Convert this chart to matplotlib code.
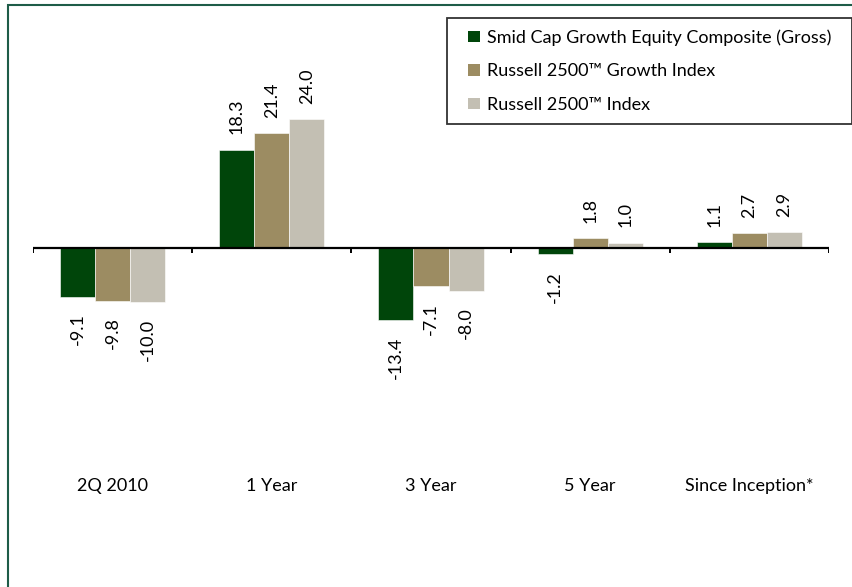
import numpy as np
import matplotlib
matplotlib.use('Agg')
import matplotlib.pyplot as plt
from matplotlib.patches import Patch, Rectangle
from matplotlib.legend_handler import HandlerPatch

plt.rcParams['font.family'] = ['Lato', 'DejaVu Sans']

categories = ['2Q 2010', '1 Year', '3 Year', '5 Year', 'Since Inception*']
series_names = ['Smid Cap Growth Equity Composite (Gross)',
                'Russell 2500\u2122 Growth Index',
                'Russell 2500\u2122 Index']
composite = [-9.1, 18.3, -13.4, -1.2, 1.1]
growth_index = [-9.8, 21.4, -7.1, 1.8, 2.7]
index_2500 = [-10.0, 24.0, -8.0, 1.0, 2.9]
value_labels = [['-9.1', '18.3', '-13.4', '-1.2', '1.1'],
                ['-9.8', '21.4', '-7.1', '1.8', '2.7'],
                ['-10.0', '24.0', '-8.0', '1.0', '2.9']]

colors = ['#00450A', '#9C8C62', '#C3BFB3']

W, H = 853, 587
fig = plt.figure(figsize=(W / 100, H / 100), dpi=100)

# outer frame of the slide
fig.patches.append(Rectangle((8 / W, -0.05), 1.0, (H - 5) / H + 0.05,
                             transform=fig.transFigure, fill=False,
                             edgecolor='#1E5C48', linewidth=1.5))

ax = fig.add_axes([33 / W, (H - 463) / H, (829 - 33) / W, 430 / H])

x = np.arange(len(categories))
width = 0.22
all_series = [composite, growth_index, index_2500]
for i, vals in enumerate(all_series):
    pos = x + (i - 1) * width
    ax.bar(pos, vals, width, color=colors[i], edgecolor='white', linewidth=0.4,
           label=series_names[i])
    for xp, v, lab in zip(pos, vals, value_labels[i]):
        off = 11 if v >= 0 else -12
        ax.annotate(lab, (xp, v), xytext=(0, off), textcoords='offset points',
                    rotation=90, ha='center', va='bottom' if v >= 0 else 'top',
                    fontsize=13)

# zero line with category separator ticks
ax.axhline(0, color='black', linewidth=1.6, zorder=3)
ax.vlines(np.arange(len(categories) + 1) - 0.5, -0.95, 0, color='black',
          linewidth=1.4, zorder=3)

ax.set_xlim(-0.5, len(categories) - 0.5)
ax.set_ylim(-40, 40)
ax.set_xticks(x)
ax.set_xticklabels(categories, fontsize=13)
ax.tick_params(axis='x', length=0, pad=11)
ax.set_yticks([])
for s in ax.spines.values():
    s.set_visible(False)


# small square marker sitting at the right end of the handle box
def square_patch(legend, orig_handle, xdescent, ydescent, width, height, fontsize):
    s = 8.5
    return Rectangle((-xdescent + width - s, -ydescent + (height - s) / 2), s, s)


handles = [Patch(facecolor=c, edgecolor='none') for c in colors]
leg = fig.legend(handles, series_names, loc='upper left',
                 bbox_to_anchor=(447 / W, (H - 125) / H, 405 / W, 107 / H),
                 mode='expand', fontsize=13,
                 frameon=True, fancybox=False, shadow=False,
                 handler_map={Patch: HandlerPatch(patch_func=square_patch)},
                 handlelength=1.2, handleheight=0.7, handletextpad=0.4,
                 labelspacing=0.97, borderpad=0.62, borderaxespad=0)
leg.get_frame().set_edgecolor('black')
leg.get_frame().set_linewidth(1.3)

fig.savefig('out.png', dpi=100)
